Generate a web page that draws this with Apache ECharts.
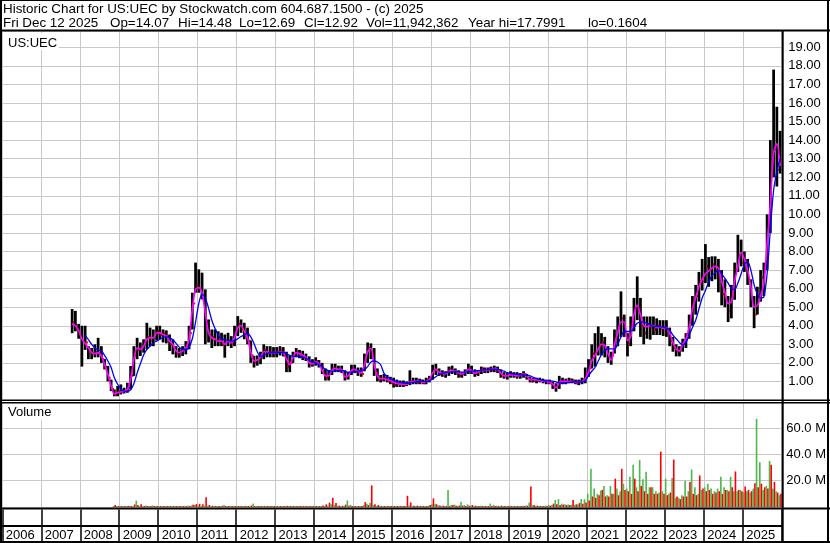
<!DOCTYPE html>
<html><head><meta charset="utf-8">
<script src="https://cdn.jsdelivr.net/npm/echarts@6/dist/echarts.min.js"></script>
<style>html,body{margin:0;padding:0;background:#fff}#c{width:830px;height:543px}</style>
</head><body><div id="c"></div>
<script>
// months since Jan 2006 of the first monthly bar (Oct 2007)
const firstMonth = 21;
const yearLabels = [2006,2007,2008,2009,2010,2011,2012,2013,2014,2015,2016,2017,2018,2019,2020,2021,2022,2023,2024,2025];
const priceTicks = [1,2,3,4,5,6,7,8,9,10,11,12,13,14,15,16,17,18,19];
const volTicks = [20,40,60];

// monthly high
const hi = [4.9,4.8,4.1,
 4.0,4.0,2.9,2.8,3.0,3.35,2.9,2.2,1.83,1.1,0.57,0.75,
 0.84,0.66,0.93,1.83,2.9,3.35,3.1,3.27,4.16,3.9,3.8,4.0,
 4.0,3.8,3.75,3.53,3.27,2.9,2.8,2.9,3.17,4.0,5.78,7.4,
 7.04,6.86,5.96,4.34,3.8,3.8,3.7,3.62,3.53,3.62,3.44,4.0,
 4.52,4.34,4.16,3.9,3.2,2.38,2.4,2.6,3.0,2.9,2.9,2.85,
 2.85,2.9,2.85,2.6,2.4,2.6,2.8,2.7,2.65,2.5,2.35,2.2,
 2.3,2.15,2.0,1.7,1.6,1.95,1.95,1.85,1.85,1.6,1.5,1.9,
 1.9,1.75,1.75,2.5,3.1,3.05,2.8,1.7,1.35,1.4,1.35,1.25,
 1.2,1.1,1.05,1.05,1.0,1.6,1.2,1.2,1.15,1.1,1.2,1.3,
 1.9,1.95,1.7,1.6,1.55,1.8,1.85,1.7,1.6,1.5,1.65,1.95,
 1.85,1.65,1.6,1.8,1.75,1.75,1.8,1.85,1.8,1.65,1.5,1.45,
 1.55,1.5,1.5,1.45,1.55,1.4,1.25,1.2,1.2,1.2,1.15,1.1,
 1.1,1.0,0.9,1.3,1.2,1.15,1.2,1.15,1.1,1.1,1.2,1.75,
 2.2,3.0,3.6,3.96,3.6,3.4,2.9,2.6,3.8,4.5,5.85,4.6,
 3.6,4.5,5.5,6.66,5.5,4.5,4.5,4.5,4.5,4.4,4.3,4.3,
 4.3,3.9,3.4,3.0,2.9,3.3,3.6,4.6,5.6,6.2,6.9,7.6,
 8.4,7.7,7.74,7.74,7.6,7.0,6.5,5.6,6.2,7.4,8.9,8.64,
 8.0,7.6,6.5,5.6,6.1,7.0,7.4,10.0,14.0,17.8,15.8,14.5];

// monthly low
const lo = [3.6,3.7,3.3,
 1.8,2.7,2.2,2.2,2.3,2.3,2.0,1.65,1.0,0.48,0.2,0.2,
 0.3,0.35,0.39,0.57,1.3,2.2,2.37,2.55,2.73,2.9,2.9,3.2,
 3.27,3.1,3.05,2.64,2.46,2.28,2.28,2.37,2.46,2.73,3.8,5.78,
 5.78,5.42,3.0,3.1,2.8,2.9,2.9,2.9,2.28,2.9,2.8,2.9,
 3.44,3.62,3.27,3.0,2.0,1.75,1.85,1.93,2.2,2.3,2.3,2.3,
 2.3,2.4,2.35,1.5,1.5,2.0,2.3,2.25,2.15,2.1,1.75,1.8,
 1.85,1.75,1.4,1.05,1.05,1.35,1.5,1.5,1.45,1.05,1.1,1.35,
 1.45,1.3,1.25,1.55,2.0,2.2,1.3,1.0,0.95,1.0,0.95,0.85,
 0.67,0.7,0.7,0.7,0.75,0.8,0.85,0.85,0.85,0.85,0.85,0.95,
 1.1,1.35,1.3,1.25,1.2,1.3,1.4,1.35,1.2,1.2,1.3,1.4,
 1.4,1.25,1.3,1.4,1.45,1.45,1.5,1.5,1.45,1.2,1.15,1.1,
 1.2,1.2,1.15,1.15,1.2,1.1,0.95,0.95,0.9,0.95,0.9,0.85,
 0.85,0.6,0.45,0.6,0.85,0.85,0.9,0.9,0.85,0.8,0.85,0.9,
 1.25,1.7,1.8,2.4,2.4,2.3,2.0,1.9,2.5,2.9,3.4,3.4,
 2.35,2.9,3.7,4.3,3.4,3.0,3.3,3.25,3.5,3.5,3.5,3.45,
 3.4,2.9,2.6,2.35,2.35,2.6,2.8,3.3,4.0,4.6,5.3,5.9,
 6.3,6.1,6.4,6.5,5.8,5.1,5.0,4.2,4.4,5.4,6.9,7.2,
 6.9,6.2,5.0,3.87,4.6,5.3,5.6,7.0,9.0,12.0,11.5,12.2];

// monthly close
const cl = [4.2,3.9,3.5,
 3.2,3.1,2.6,2.5,2.6,2.5,2.2,1.8,1.2,0.6,0.3,0.45,
 0.45,0.5,0.65,1.3,2.4,2.7,2.8,3.0,3.4,3.2,3.5,3.7,
 3.5,3.6,3.4,3.0,2.8,2.5,2.6,2.7,2.9,3.6,5.2,6.2,
 6.0,5.6,4.2,3.5,3.4,3.2,3.3,3.0,3.1,3.2,3.0,3.6,
 4.1,3.8,3.5,3.2,2.4,2.0,2.2,2.4,2.7,2.5,2.6,2.5,
 2.6,2.7,2.4,1.8,2.0,2.4,2.6,2.4,2.3,2.2,1.9,2.0,
 2.1,1.9,1.5,1.2,1.4,1.7,1.7,1.6,1.5,1.2,1.4,1.6,
 1.6,1.5,1.4,2.2,2.8,2.4,1.5,1.2,1.1,1.2,1.0,0.95,
 0.8,0.9,0.85,0.8,0.9,1.0,1.0,0.95,1.05,0.9,1.1,1.2,
 1.6,1.6,1.4,1.4,1.5,1.7,1.6,1.5,1.3,1.4,1.6,1.7,
 1.5,1.4,1.5,1.7,1.6,1.7,1.6,1.7,1.6,1.3,1.3,1.3,
 1.4,1.3,1.3,1.35,1.4,1.2,1.0,1.1,1.05,1.05,1.0,1.0,
 0.9,0.7,0.7,1.0,1.0,1.0,1.1,1.0,0.9,1.0,1.1,1.4,
 1.7,2.5,2.6,2.9,3.1,2.8,2.3,2.4,3.3,3.9,4.4,3.6,
 3.0,4.1,5.0,4.8,4.0,3.6,4.1,3.9,3.8,4.0,3.8,3.9,
 3.7,3.2,2.8,2.6,2.8,3.1,3.5,4.3,5.2,5.6,6.4,6.4,
 7.2,7.0,7.3,7.0,6.6,5.7,5.5,4.8,5.9,7.0,7.8,7.4,
 7.2,6.4,5.4,4.6,5.7,6.6,7.1,9.2,12.8,13.5,12.4,12.9];

// short moving average (magenta)
const maFast = [4.1,4.0,3.75,
 3.3,3.05,2.8,2.55,2.5,2.55,2.37,1.92,1.38,0.75,0.32,0.4,
 0.43,0.48,0.57,1.1,2.19,2.8,2.73,2.9,3.27,3.35,3.35,3.62,
 3.62,3.53,3.45,3.17,3.0,2.64,2.55,2.64,2.8,3.27,4.88,5.96,
 6.05,5.78,4.7,3.62,3.35,3.27,3.17,3.17,3.0,3.17,3.08,3.35,
 3.9,4.0,3.7,3.35,2.6,2.1,2.15,2.3,2.6,2.6,2.55,2.55,
 2.55,2.6,2.55,2.2,1.9,2.3,2.55,2.5,2.4,2.3,2.0,1.95,
 2.05,1.95,1.6,1.3,1.3,1.6,1.7,1.65,1.65,1.25,1.3,1.6,
 1.65,1.55,1.45,1.9,2.6,2.8,1.9,1.3,1.15,1.15,1.1,1.05,
 0.95,0.9,0.85,0.85,0.85,0.95,1.0,1.0,1.0,0.95,1.0,1.1,
 1.45,1.65,1.5,1.45,1.4,1.55,1.6,1.55,1.45,1.4,1.5,1.65,
 1.6,1.45,1.5,1.6,1.6,1.6,1.65,1.7,1.65,1.45,1.3,1.3,
 1.35,1.35,1.3,1.32,1.4,1.3,1.1,1.1,1.08,1.05,1.0,1.0,
 0.95,0.85,0.65,0.95,1.0,1.0,1.0,1.0,0.95,0.95,1.0,1.15,
 1.5,2.1,2.4,2.75,3.0,2.95,2.5,2.15,3.0,3.6,4.2,4.2,
 3.2,3.4,4.6,5.1,4.6,4.0,3.95,4.0,4.0,3.9,3.95,3.87,
 3.9,3.6,3.1,2.75,2.65,3.0,3.3,3.9,4.9,5.5,6.1,6.5,
 6.8,6.95,7.1,7.2,7.1,6.4,5.8,5.2,5.3,6.4,7.2,7.95,
 7.6,7.0,6.1,5.0,5.1,5.6,6.3,8.4,10.6,13.3,13.8,12.6];

// long moving average (blue)
const maSlow = [null,null,null,
 null,3.48,3.25,3.0,2.8,2.7,2.65,2.4,2.1,1.75,1.2,0.85,
 0.6,0.48,0.47,0.55,0.88,1.45,1.95,2.42,2.73,2.9,3.08,3.17,
 3.27,3.38,3.4,3.36,3.25,3.05,2.85,2.72,2.72,2.85,3.3,4.2,
 5.2,5.7,5.5,4.95,4.3,3.85,3.5,3.3,3.25,3.2,3.17,3.2,
 3.3,3.42,3.5,3.6,3.4,3.05,2.6,2.35,2.4,2.5,2.55,2.56,
 2.56,2.56,2.56,2.5,2.4,2.35,2.35,2.35,2.3,2.25,2.15,2.05,
 2.0,1.9,1.8,1.65,1.58,1.55,1.57,1.6,1.6,1.55,1.5,1.5,
 1.5,1.55,1.6,1.65,1.8,2.05,2.1,2.05,1.9,1.45,1.25,1.15,
 1.05,1.0,0.95,0.92,0.9,0.92,0.95,0.97,1.0,1.0,1.0,1.05,
 1.12,1.25,1.38,1.45,1.47,1.5,1.52,1.53,1.52,1.5,1.5,1.52,
 1.55,1.57,1.58,1.6,1.62,1.63,1.65,1.66,1.65,1.6,1.55,1.47,
 1.42,1.4,1.38,1.36,1.35,1.33,1.3,1.22,1.15,1.1,1.05,1.03,
 1.03,1.02,0.97,0.92,0.9,0.92,0.95,0.97,0.98,0.97,0.97,1.05,
 1.3,1.55,1.75,2.1,2.45,2.65,2.78,2.75,2.75,3.0,3.4,3.69,
 3.69,3.69,3.9,4.14,4.2,4.2,4.14,4.05,3.96,3.96,3.96,3.92,
 3.87,3.75,3.5,3.3,3.1,2.97,3.1,3.5,3.9,4.3,4.9,5.5,
 5.9,6.35,6.7,6.85,7.0,6.8,6.55,6.3,6.0,5.95,6.3,6.8,
 7.3,7.45,7.0,6.2,5.7,5.5,5.55,6.8,9.2,11.3,12.3,13.0];

// volume, millions: up days (green) and down days (red)
const volUp = [0,0,0,
 0,0,0,0,0,0,0,0,0,0,0.3,0.4,
 0.3,0.4,0.5,0.6,0.8,4.8,0.6,0.8,1.2,0.6,1.2,0.8,
 0.5,0.4,0.5,0.4,0.3,0.3,0.4,0.5,0.6,1.0,1.2,1.5,
 1.2,0.8,1.0,0.9,0.6,0.5,0.5,0.6,1.5,0.6,0.5,0.7,
 0.8,0.6,0.7,0.8,0.5,2.6,0.3,0.5,0.6,0.4,0.3,0.3,
 0.4,0.3,0.3,0.3,0.5,0.5,0.6,0.4,0.3,0.3,0.3,0.4,
 0.5,0.4,0.4,0.6,1.0,2.0,1.5,1.0,0.8,0.9,5.0,1.6,
 0.8,0.6,0.6,1.5,2.4,3.2,1.5,0.8,0.6,0.6,0.5,0.5,
 0.6,0.6,0.5,0.6,0.8,1.2,1.0,0.6,0.6,0.5,0.8,1.0,
 2.0,2.5,1.2,0.8,0.8,13.0,1.5,1.8,0.8,4.0,1.5,2.0,
 1.0,0.8,0.6,1.0,0.8,0.8,2.6,1.5,1.0,0.6,0.8,0.6,
 1.0,0.8,0.6,0.8,1.0,1.2,3.4,1.2,0.8,1.0,0.8,1.0,
 1.5,1.5,5.4,6.0,2.5,2.0,2.0,1.8,1.5,2.0,6.0,5.9,
 10,29,14,10,12.5,16,9,16,10,14,12,17.7,
 14,23,32,15,35.6,21,26.7,15,15,12,11,12,
 21.5,10,22,7,7,9,20,12,28.5,15,10,13,
 15,17.7,14,12,14,23,15,13,23,12,12,13,
 11,12,11,14,67,34,13,16,35,14,12,9];
const volDown = [0,0,0,
 0,0,0,0,0,0,0,0,0,0,1.5,0.3,
 0.4,0.3,0.4,0.5,2.0,1.5,2.0,0.5,0.6,0.8,0.5,0.6,
 0.6,0.5,0.4,0.6,0.8,0.5,0.3,0.4,0.5,0.8,1.8,2.2,
 2.4,2.0,7.4,1.5,0.9,0.7,0.6,0.9,0.8,0.5,0.5,0.4,
 0.5,0.6,0.8,0.8,1.2,0.6,0.4,0.4,0.3,0.4,0.4,0.3,
 0.3,0.4,0.5,0.9,0.6,0.4,0.3,0.3,0.4,0.4,0.6,0.4,
 0.4,0.6,1.2,2.0,3.3,7.0,3.0,1.0,0.9,1.8,1.0,0.8,
 0.7,0.6,0.8,3.7,1.5,16.4,2.0,1.5,0.8,0.6,0.6,0.6,
 0.8,0.5,0.5,0.5,8.5,3.5,1.0,1.0,0.6,0.6,0.6,1.5,
 6.6,2.0,1.2,1.0,0.8,0.8,1.5,1.0,1.2,1.0,0.8,1.0,
 1.5,1.0,0.8,0.6,0.6,0.6,0.6,0.8,0.6,1.0,0.8,0.8,
 0.6,0.5,0.6,0.6,0.8,1.0,15.6,1.5,1.0,0.8,0.8,0.8,
 1.0,2.5,2.0,1.5,1.8,1.5,1.5,5.4,2.0,3.0,2.5,3.5,
 5,8,7,9,13,8,8,10,21.5,9,29,13,
 12,10,21.5,12,16,12,10,15,10,10,42,10,
 9,11,36,8,6,8,8,19,10,9,24,14,
 12,13,10,11,12,10,13,12,15,27,13,12,
 15.6,13,12,18,15,17.7,15,14,32,19,11,10];

const FONT = '"Liberation Sans", Arial, Helvetica, sans-serif';
const X0 = 2.33, XW = 779.4;
const mx = i => firstMonth + i + 0.5;

const ohlcData = hi.map((h, i) => [mx(i), lo[i], h, cl[i]]);
const fastData = maFast.map((v, i) => [mx(i), v]);
const slowData = maSlow.map((v, i) => [mx(i), v]).filter(d => d[1] !== null);
const volData = volUp.map((v, i) => [mx(i), v, volDown[i]]);

function renderBar(params, api) {
  const x = api.value(0);
  const top = api.coord([x, api.value(2)]);
  const bot = api.coord([x, api.value(1)]);
  const c = api.coord([x, api.value(3)]);
  const w = api.size([1, 0])[0];
  const bw = Math.max(1.5, w - 0.5);
  return {type: 'group', children: [
    {type: 'rect', shape: {x: top[0] - bw / 2, y: top[1], width: bw, height: Math.max(1, bot[1] - top[1])}, style: {fill: '#000'}},
    {type: 'rect', shape: {x: top[0] + bw / 2 - 0.5, y: c[1] - 1, width: 2, height: 2}, style: {fill: '#ff0000'}}
  ]};
}
function renderVol(params, api) {
  const x = api.value(0);
  const w = api.size([1, 0])[0];
  const base = api.coord([x, 0]);
  const g = api.coord([x, api.value(1)]);
  const r = api.coord([x, api.value(2)]);
  const kids = [];
  if (api.value(1) > 0) kids.push({type: 'rect', shape: {x: base[0] - w / 2, y: Math.min(g[1], base[1] - 1), width: w / 2, height: Math.max(1, base[1] - g[1])}, style: {fill: '#4cb84c'}});
  if (api.value(2) > 0) kids.push({type: 'rect', shape: {x: base[0], y: Math.min(r[1], base[1] - 1), width: w / 2, height: Math.max(1, base[1] - r[1])}, style: {fill: '#ff0000'}});
  return {type: 'group', children: kids};
}

const gridLine = {show: true, lineStyle: {color: '#c8c8c8', width: 1}};
const xBase = {type: 'value', min: 0, max: 240, interval: 12, axisLine: {show: false}, axisTick: {show: false}, axisLabel: {show: false}, splitLine: gridLine};

function hdr(text, x, y) {
  return {type: 'text', z: 110, x: x, y: y, style: {text: text, font: '13.4px ' + FONT, fill: '#000', verticalAlign: 'top'}};
}
function bar(x, y, w, h, fill) {
  return {type: 'rect', z: 105, shape: {x: x, y: y, width: w, height: h}, style: {fill: fill || '#000'}};
}

const option = {
  animation: false,
  backgroundColor: '#fff',
  grid: [
    {left: X0, top: 31, width: XW, height: 369},
    {left: X0, top: 402.5, width: XW, height: 104.5},
    {left: X0, top: 509.5, width: XW, height: 16.5}
  ],
  xAxis: [
    Object.assign({gridIndex: 0}, xBase),
    Object.assign({gridIndex: 1}, xBase),
    {type: 'value', gridIndex: 2, min: 0, max: 240, interval: 12,
     axisLine: {show: true, lineStyle: {color: '#000', width: 2}},
     axisTick: {show: true, length: 16, lineStyle: {color: '#000', width: 1.5}},
     splitLine: {show: true, lineStyle: {color: '#000', width: 1.5}},
     axisLabel: {show: true, margin: 2.5, align: 'left', padding: [0, 0, 0, 3.5], color: '#000', fontSize: 13, fontFamily: FONT,
       formatter: v => (v < 240 ? String(yearLabels[Math.round(v / 12)]) : '')}}
  ],
  yAxis: [
    {type: 'value', gridIndex: 0, position: 'right', min: 0, max: 19.88, interval: 1,
     axisLine: {show: false}, axisTick: {show: false}, splitLine: gridLine,
     axisLabel: {margin: 6.5, color: '#000', fontSize: 13, fontFamily: FONT, showMaxLabel: false,
       formatter: v => (priceTicks.indexOf(v) >= 0 ? v.toFixed(2) : '')}},
    {type: 'value', gridIndex: 1, position: 'right', min: 0, max: 79.37, interval: 20,
     axisLine: {show: false}, axisTick: {show: false}, splitLine: gridLine,
     axisLabel: {margin: 4.5, color: '#000', fontSize: 13, fontFamily: FONT, showMaxLabel: false,
       formatter: v => (volTicks.indexOf(v) >= 0 ? v.toFixed(1) + ' M' : '')}},
    {type: 'value', gridIndex: 2, min: 0, max: 1, show: false}
  ],
  series: [
    {type: 'custom', xAxisIndex: 0, yAxisIndex: 0, renderItem: renderBar, data: ohlcData, z: 2},
    {type: 'line', xAxisIndex: 0, yAxisIndex: 0, data: fastData, symbol: 'none', smooth: 0.3,
     lineStyle: {color: '#ff00ff', width: 1.7}, z: 3},
    {type: 'line', xAxisIndex: 0, yAxisIndex: 0, data: slowData, symbol: 'none', smooth: 0.3,
     lineStyle: {color: '#0000ff', width: 1.3}, z: 4},
    {type: 'custom', xAxisIndex: 1, yAxisIndex: 1, renderItem: renderVol, data: volData, z: 2}
  ],
  graphic: {elements: [
    // frame
    bar(0, 0, 830, 1), bar(0, 0, 2, 543), bar(827, 0, 2, 543), bar(0, 541, 830, 2),
    bar(0, 29.5, 830, 2),
    bar(0, 399.5, 830, 1.5), bar(0, 402, 830, 1.5),
    bar(0, 507.5, 830, 2),
    bar(781.7, 31, 2, 512),
    // panel labels with white boxes
    bar(3, 33, 56, 17, '#fff'),
    {type: 'text', z: 110, x: 8, y: 37, style: {text: 'US:UEC', font: '13px ' + FONT, fill: '#000', verticalAlign: 'top'}},
    bar(3, 404, 54, 16, '#fff'),
    {type: 'text', z: 110, x: 8, y: 406, style: {text: 'Volume', font: '13px ' + FONT, fill: '#000', verticalAlign: 'top'}},
    // header
    hdr('Historic Chart for US:UEC by Stockwatch.com 604.687.1500 - (c) 2025', 3, 3),
    hdr('Fri Dec 12 2025', 3, 16.5),
    hdr('Op=14.07', 110, 16.5),
    hdr('Hi=14.48', 178, 16.5),
    hdr('Lo=12.69', 239, 16.5),
    hdr('Cl=12.92', 304, 16.5),
    hdr('Vol=11,942,362', 366, 16.5),
    hdr('Year hi=17.7991', 468, 16.5),
    hdr('lo=0.1604', 588, 16.5)
  ]}
};
const chart = echarts.init(document.getElementById('c'), null, {renderer: 'canvas'});
chart.setOption(option);
</script>
</body></html>
